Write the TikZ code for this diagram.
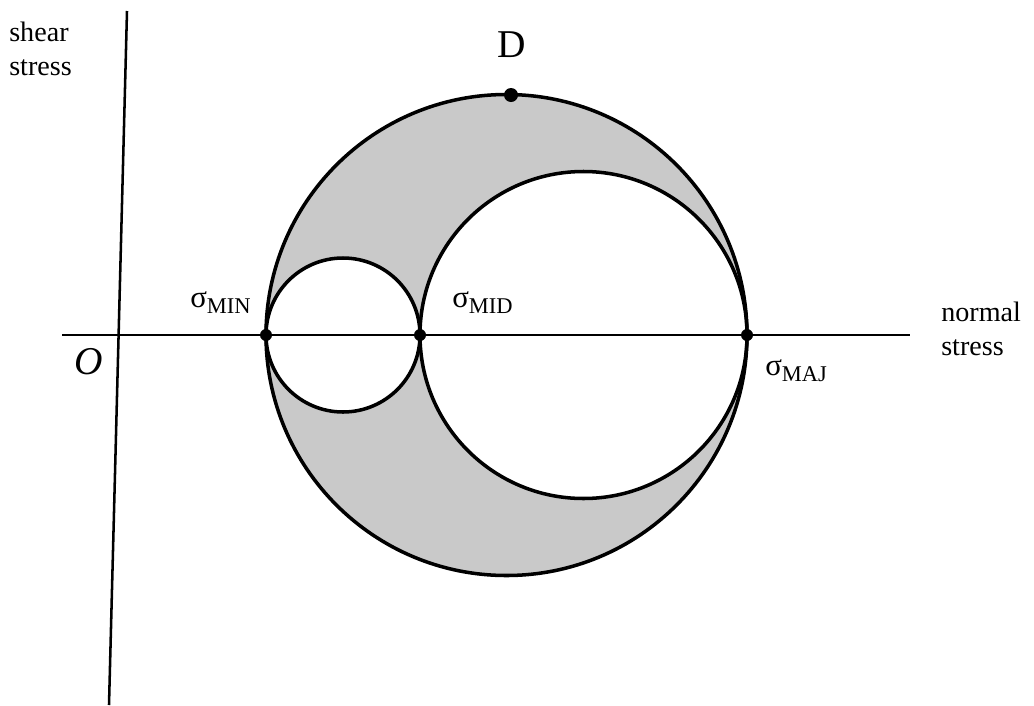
\documentclass[tikz,border=0pt]{standalone}
\usepackage{fontspec}
\setmainfont{Liberation Serif}
\definecolor{stippleGray}{gray}{0.79}
\usetikzlibrary{positioning}
\newcommand{\sigmalabel}[1]{{\fontsize{22}{24}\selectfont σ}\raisebox{-4.3pt}{\fontsize{16}{17}\selectfont #1}}

\begin{document}
\begin{tikzpicture}[x=0.025cm, y=-0.025cm, font=\fontsize{20}{24.2}\selectfont]
    \useasboundingbox (0,0) rectangle (1034,705);

    % Points on the normal stress axis
    \coordinate (smin) at (266,335);
    \coordinate (smid) at (420,335);
    \coordinate (smaj) at (747,335);

    % Shaded region between the outer circle and the two inner circles
    \fill[stippleGray, even odd rule] (506.5,335) circle (240.5)
                                      (343,335) circle (77)
                                      (583.5,335) circle (163.5);

    % Axes
    \coordinate (ytop) at (127,11);
    \coordinate (ybot) at (109,705);
    \coordinate (xleft) at (62,335);
    \coordinate (xright) at (910,335);
    \draw[line width=1.8pt] (ytop) -- (ybot);
    \draw[line width=1.8pt] (xleft) -- (xright);

    % Mohr circles
    \draw[line width=2.5pt] (506.5,335) circle (240.5);
    \draw[line width=2.5pt] (343,335) circle (77);
    \draw[line width=2.5pt] (583.5,335) circle (163.5);

    % Principal stress points and point D
    \foreach \p in {smin, smid, smaj} {
        \fill (\p) circle (6);
    }
    \coordinate (D) at (511,95);
    \fill (D) circle (7);

    % Labels
    \node[anchor=north west, inner sep=0, align=left] (shear) at (9,22) {shear\\stress};
    \node[anchor=north west, inner sep=0, align=left] (normal) at (941,302) {normal\\stress};
    \node[font=\fontsize{28}{30}\selectfont\itshape] (origin) at (89,362) {O};
    \node[anchor=base, inner sep=0, font=\fontsize{28}{30}\selectfont] (Dlabel) at (512,57) {D};
    \node[anchor=base west, inner sep=0] (minlabel) at (190,307) {\sigmalabel{MIN}};
    \node[anchor=base west, inner sep=0] (midlabel) at (452,307) {\sigmalabel{MID}};
    \node[anchor=base west, inner sep=0] (majlabel) at (765,375) {\sigmalabel{MAJ}};
\end{tikzpicture}
\end{document}
